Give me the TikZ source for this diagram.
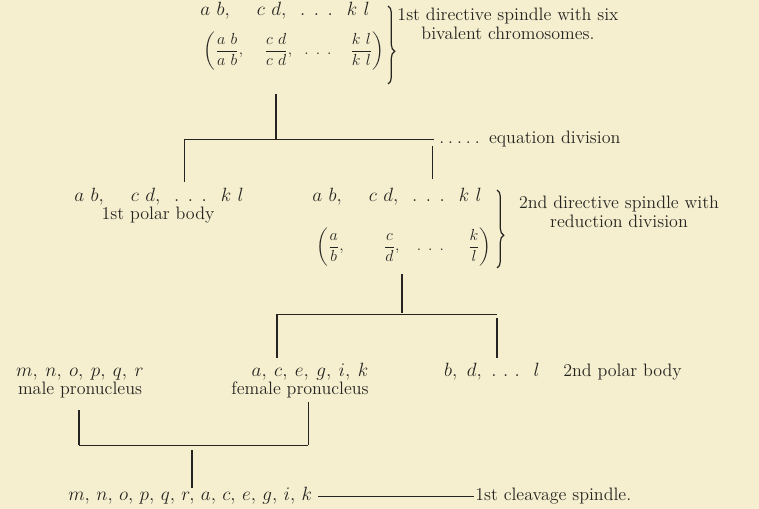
\documentclass[tikz,border=0pt]{standalone}
\usepackage{amsmath}
\usetikzlibrary{decorations.pathreplacing}
\definecolor{paper}{HTML}{F5EFD0}
\definecolor{ink}{HTML}{262420}
\newcommand{\abrow}{$a\,\,b,\hspace{18pt}c\,\,d,\hspace{8pt}\ldotp\;\ldotp\;\ldotp\hspace{8pt}k\,\,l$}
\begin{document}
\begin{tikzpicture}[x=0.75pt,y=-0.75pt,
  every node/.style={text=ink, inner sep=0pt, font=\fontsize{13.5}{13.8}\selectfont},
  mathtext/.style={font=\fontsize{14}{16}\selectfont},
  fractext/.style={font=\fontsize{13}{15}\selectfont},
  thinline/.style={draw=ink, line width=0.6pt},
  thickline/.style={draw=ink, line width=1.5pt},
  medline/.style={draw=ink, line width=1.0pt},
  bracestyle/.style={draw=ink, line width=0.9pt, decorate, decoration={brace, amplitude=5pt, aspect=0.58}}]
\fill[paper] (0,0) rectangle (759,509);
\useasboundingbox (0,0) rectangle (759,509);

% ---- first spindle
\node[mathtext, anchor=base] (t1) at (285,16) {\abrow};
\node[fractext] (t2) at (294,51) {$\biggl(\dfrac{a\,\,b}{a\,\,b},\hspace{14pt}\dfrac{c\,\,d}{c\,\,d},\hspace{7pt}\ldotp\;\ldotp\;\ldotp\hspace{12pt}\dfrac{k\,\,l}{k\,\,l}\biggr)$};
\coordinate (br1a) at (388,6);
\coordinate (br1b) at (388,84);
\draw[bracestyle] (br1a) -- (br1b);
\node[align=center] (l1) at (508,24) {1st directive spindle with six\\bivalent chromosomes.};

% ---- equation division
\coordinate (j1) at (276,139);
\coordinate (j1top) at (276,94);
\coordinate (b1L) at (184,139);
\coordinate (b1R) at (434,139);
\coordinate (d1L) at (184,182);
\coordinate (d1Rt) at (432,146);
\coordinate (d1R) at (432,179);
\draw[thickline] (j1top) -- (j1);
\draw[thinline] (b1L) -- (b1R);
\draw[thinline] (b1L) -- (d1L);
\draw[thinline] (d1Rt) -- (d1R);
\node[anchor=base west] (eq) at (439,144) {.\kern3pt.\kern3pt.\kern3pt.\kern3pt.\kern7pt equation division};

% ---- first polar body
\node[mathtext, anchor=base] (pL1) at (159,202) {\abrow};
\node[anchor=base] (pL2) at (158,220) {1st polar body};

% ---- second spindle
\node[mathtext, anchor=base] (pR1) at (397,202) {\abrow};
\node[fractext] (pR2) at (404,247) {$\biggl(\dfrac{a}{b},\hspace{28pt}\dfrac{c}{d},\hspace{11pt}\ldotp\;\ldotp\;\ldotp\hspace{16pt}\dfrac{k}{l}\biggr)$};
\coordinate (br2a) at (497,190);
\coordinate (br2b) at (497,268);
\draw[bracestyle] (br2a) -- (br2b);
\node[align=center] (l2) at (619,212) {2nd directive spindle with\\reduction division};

% ---- reduction division
\coordinate (j2top) at (402,274);
\coordinate (j2) at (402,313);
\coordinate (b2L) at (277,314);
\coordinate (b2R) at (497,314);
\coordinate (d2L) at (277,358);
\coordinate (d2Rt) at (497,318);
\coordinate (d2R) at (497,358);
\draw[thickline] (j2top) -- (j2);
\draw[thinline] (b2L) -- (b2R);
\draw[medline] (b2L) -- (d2L);
\draw[medline] (d2Rt) -- (d2R);

% ---- pronuclei and second polar body
\node[mathtext, anchor=base] (m1) at (80,376) {$m,\mskip4mu n,\mskip4mu o,\mskip4mu p,\mskip4mu q,\mskip4mu r$};
\node[anchor=base] (m2) at (80,394) {male pronucleus};
\node[mathtext, anchor=base] (f1) at (310,376) {$a,\mskip4mu c,\mskip4mu e,\mskip4mu g,\mskip4mu i,\mskip4mu k$};
\node[anchor=base] (f2) at (300,394) {female pronucleus};
\node[mathtext, anchor=base] (pb1) at (492,376) {$b,\,\,d,\,\,\ldotp\,\ldotp\,\ldotp\;\;l$};
\node[anchor=base west] (pb2) at (563,376) {2nd polar body};

% ---- fusion
\coordinate (c1t) at (79,410);
\coordinate (c1) at (79,445);
\coordinate (c2t) at (308,402);
\coordinate (c2) at (308,445);
\coordinate (j3top) at (192,450);
\coordinate (j3) at (192,488);
\draw[medline] (c1t) -- (c1);
\draw[thinline] (c2t) -- (c2);
\draw[thinline] (c1) -- (c2);
\draw[thickline] (j3top) -- (j3);

% ---- cleavage spindle
\node[mathtext, anchor=base west] (cs) at (68,500) {$m,\,n,\,o,\,p,\,q,\,r,\,a,\,c,\,e,\,g,\,i,\,k$};
\node[anchor=base west] (csl) at (475,500) {1st cleavage spindle.};
\draw[thinline] ([xshift=4pt]cs.east |- 0,496) -- ([xshift=-1pt]csl.west |- 0,496);
\end{tikzpicture}
\end{document}
